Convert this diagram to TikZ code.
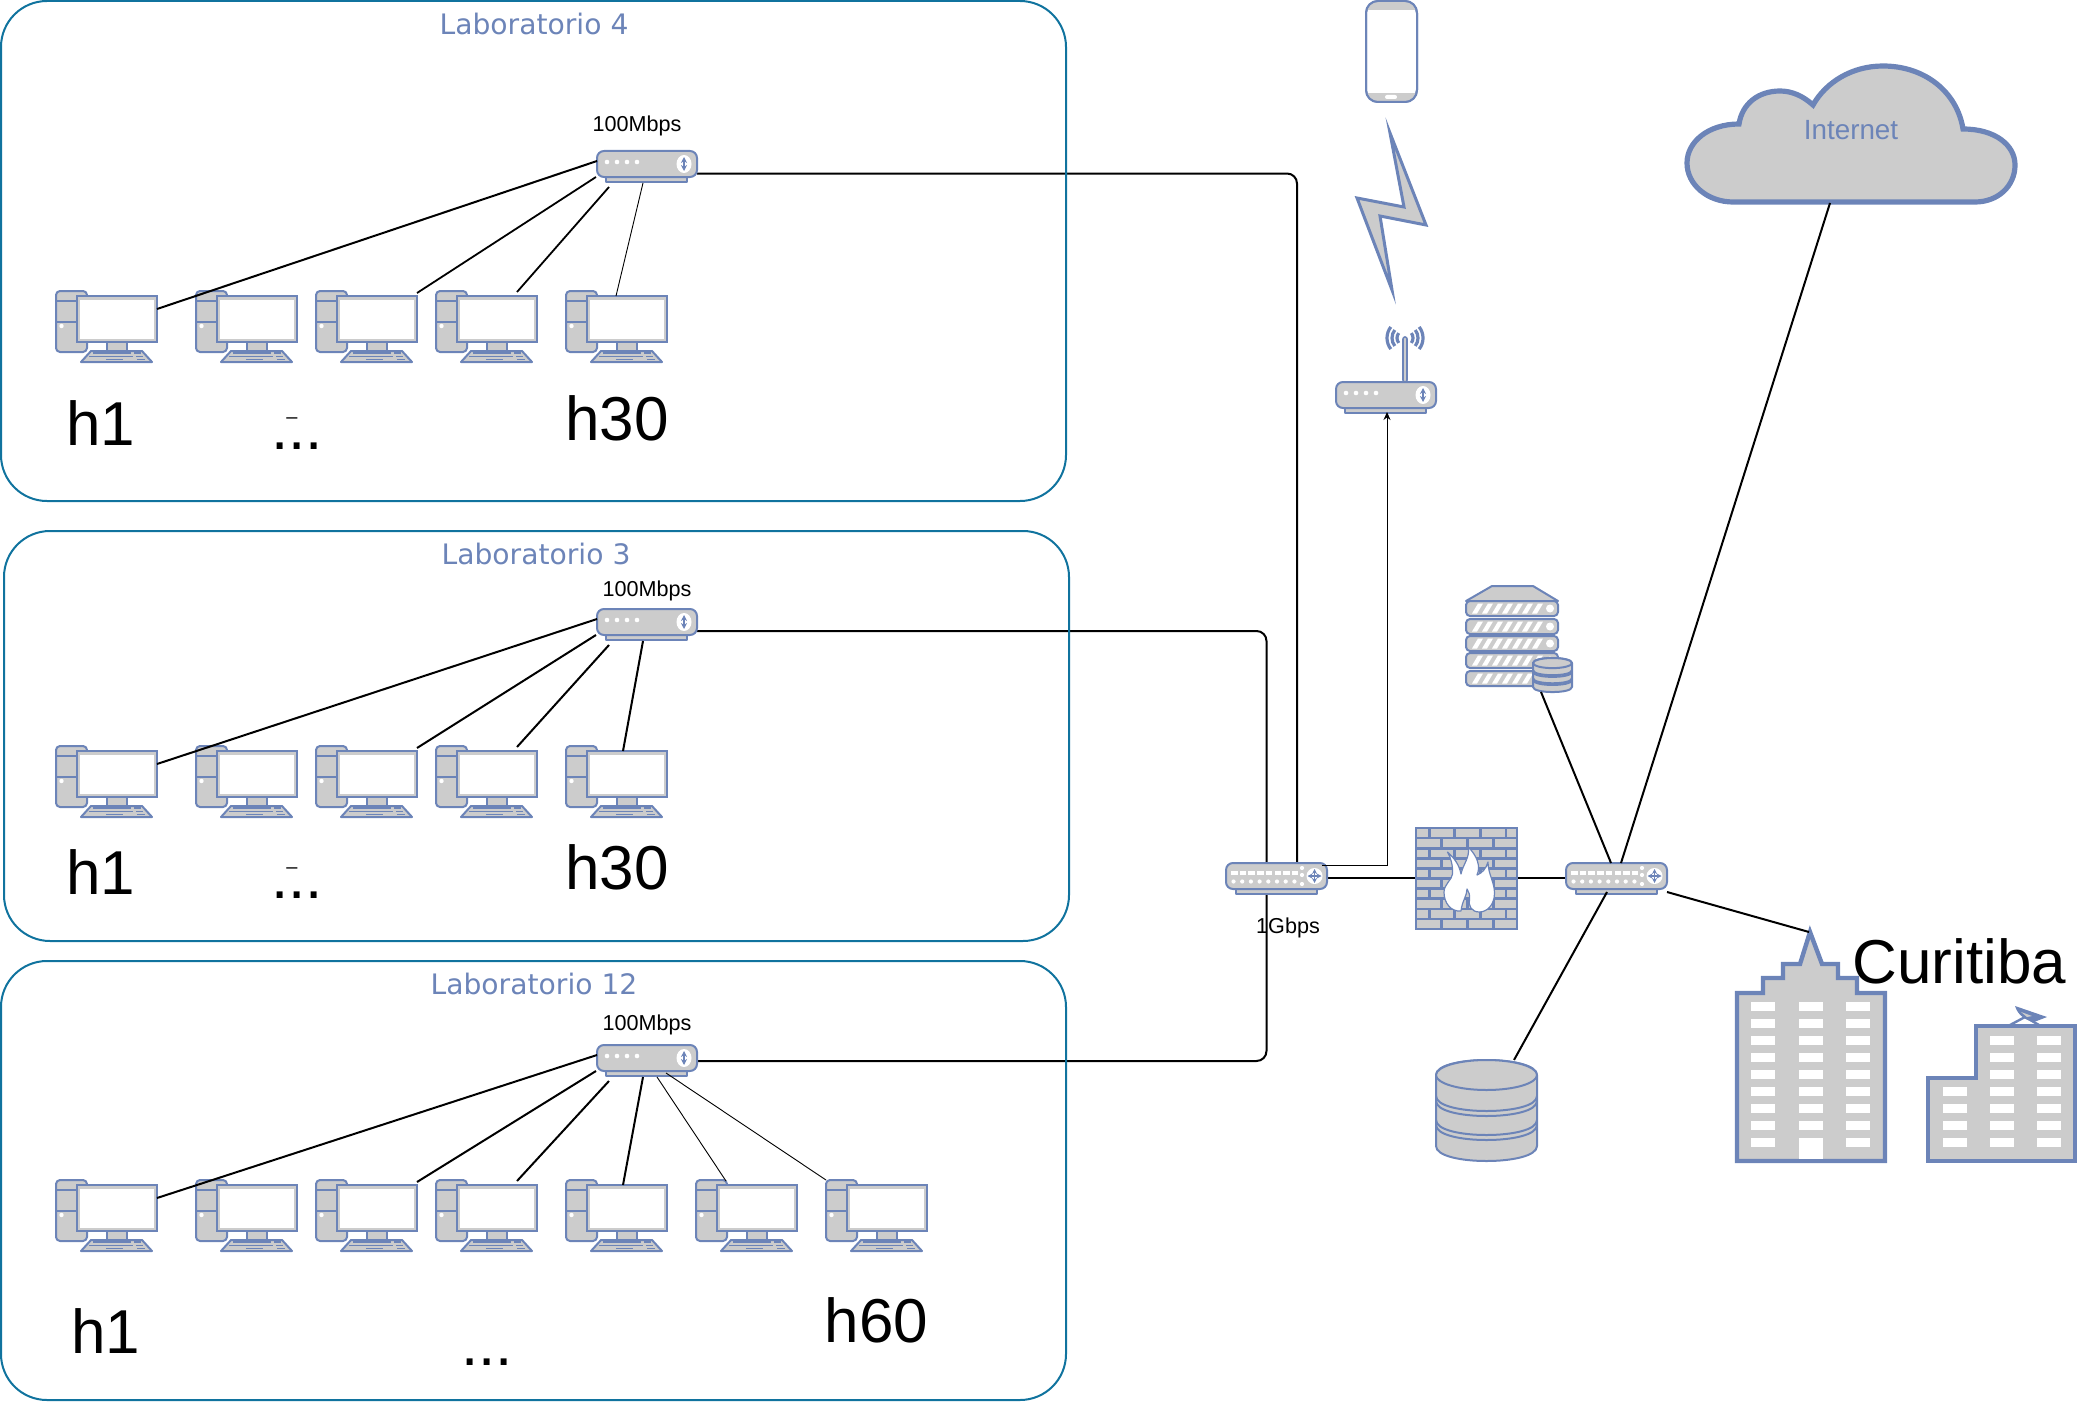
\documentclass[tikz,border=0pt]{standalone}
\usepackage{fontspec}
\setmainfont{Liberation Sans}
\newfontfamily\labfont{DejaVu Sans}
\usetikzlibrary{arrows.meta,backgrounds}
\definecolor{icon}{HTML}{6C84B8}
\definecolor{icongrey}{HTML}{CCCCCC}
\definecolor{boxline}{HTML}{10739E}
\tikzset{
  x=0.5pt,y=-0.5pt,
  labbox/.style={draw=boxline,line width=1pt,rounded corners=23pt},
  ico/.style={draw=icon,fill=icongrey,line width=1pt,line join=round},
  icoline/.style={draw=icon,line width=1pt},
  heavy/.style={draw=icon,fill=icongrey,line width=2.2pt,line join=miter},
  link/.style={draw=black,line width=1pt},
  thinlink/.style={draw=black,line width=0.45pt},
  labtitle/.style={text=icon,font=\labfont\fontsize{14.1}{16}\selectfont,inner sep=0pt},
  speed/.style={text=black,font=\fontsize{10.8}{13}\selectfont,inner sep=0pt},
  hostname/.style={text=black,font=\fontsize{31}{35}\selectfont,inner sep=0pt,anchor=base},
  tiny dash/.style={text=black,font=\fontsize{10}{12}\selectfont,inner sep=0pt},
  pics/computer/.style={code={
    \draw[ico,rounded corners=2pt] (0,0) rectangle (31,61);
    \draw[icoline] (0,10) -- (25,10) (0,31) -- (25,31);
    \fill[white] (5.5,35) circle[radius=2.2];
    \draw[ico] (51,50) rectangle (71,60);
    \draw[ico] (35,60) -- (86,60) -- (96,71) -- (25,71) -- cycle;
    \draw[icoline,line width=.9pt] (37,62) -- (75,62) (78,62) -- (85,62) (33,65.5) -- (77,65.5) (80,65.5) -- (87,65.5) (50,68.5) -- (67,68.5) (81,68.5) -- (89,68.5);
    \draw[draw=icon,fill=white,line width=1pt] (20.5,5) rectangle (101,51);
    \draw[draw=icongrey,line width=1.2pt] (22.8,7.3) rectangle (98.7,48.7);
    \coordinate (-east) at (101,18);
    \coordinate (-corner) at (101,2);
    \coordinate (-top) at (81,1);
    \coordinate (-mid) at (57,5);
    \coordinate (-midl) at (50,5);
    \coordinate (-tl) at (30,1);
    \coordinate (-nw) at (0,0);
  }},
  pics/smallswitch/.style={code={
    \draw[ico] (9,26) rectangle (90,31);
    \draw[ico,rounded corners=3.5pt] (0,0) rectangle (100,26);
    \foreach \dx in {10,20,30,40}{\fill[white] (\dx,11) circle[radius=2.3];}
    \fill[white] (87,13) ellipse[x radius=7.5,y radius=9];
    \draw[icon,line width=.8pt,{Stealth[length=3pt,width=3pt]}-{Stealth[length=3pt,width=3pt]}] (87,6) -- (87,20);
    \coordinate (-in) at (0,10);
    \coordinate (-sw) at (-1,26);
    \coordinate (-a) at (12,36);
    \coordinate (-b) at (43,32);
    \coordinate (-c) at (60,32);
    \coordinate (-d) at (69,28);
    \coordinate (-t) at (46,32);
  }},
  pics/bigswitch/.style={code={
    \draw[ico] (10,26) rectangle (91,31);
    \draw[ico,rounded corners=3.5pt] (0,0) rectangle (101,26);
    \foreach \dx in {5,13.7,22.4,31.1,39.8,48.5,57.2,65.9}{\fill[white] (\dx,8) rectangle ++(6.5,4);
       \fill[white] (\dx+2.5,18.5) circle[radius=2.1];}
    \foreach \dy in {5,12,21}{\fill[white] (76,\dy) circle[radius=2.1];}
    \fill[white] (88.5,13) circle[radius=8];
    \draw[icon,line width=.7pt,{Stealth[length=2.5pt,width=2.5pt]}-{Stealth[length=2.5pt,width=2.5pt]}] (81.5,13) -- (95.5,13);
    \draw[icon,line width=.7pt,{Stealth[length=2.5pt,width=2.5pt]}-{Stealth[length=2.5pt,width=2.5pt]}] (88.5,6) -- (88.5,20);
  }},
  pics/cylinder/.style={code={
    \draw[ico] (0,15) -- (0,86) .. controls (0,106) and (101,106) .. (101,86) -- (101,15) .. controls (101,-5) and (0,-5) .. (0,15) -- cycle;
    \draw[ico] (50.5,15) ellipse[x radius=50.5,y radius=15];
    \foreach \my in {51,56,75,80}{
      \draw[icoline] (0,\my-15) .. controls (0,\my+5) and (101,\my+5) .. (101,\my-15);}
  }},
}
\begin{document}
\begin{tikzpicture}
\useasboundingbox (0,0) rectangle (2077,1402);
% laboratory frames
\path[labbox] (1,1) rectangle (1066,501);
\path[labbox] (4,531) rectangle (1069,941);
\path[labbox] (1,961) rectangle (1066,1400);
\node[labtitle] (lab4) at (534,24) {Laboratorio 4};
\node[labtitle] (lab3) at (536,554) {Laboratorio 3};
\node[labtitle] (lab12) at (534,984) {Laboratorio 12};

% laboratory 4
\pic (swA) at (597,151) {smallswitch};
\foreach \n/\px in {1/56,2/196,3/316,4/436,5/566}{\pic (pcA\n) at (\px,291) {computer};}
\draw[link] (swA-in) -- (pcA1-east);
\draw[link,line width=.9pt] (swA-sw) -- (pcA3-corner);
\draw[link,line width=.9pt] (swA-a) -- (pcA4-top);
\draw[thinlink] (swA-t) -- (pcA5-midl);
\node[speed] (spA) at (637,126) {100Mbps};
\node[hostname] (hA1) at (100.5,445) {h1};
\node[hostname] (hAd) at (297,449) {...};
\node[tiny dash] (hAm) at (292,421) {–};
\node[hostname] (hA30) at (617,440) {h30};

% laboratory 3
\pic (swB) at (597,609) {smallswitch};
\foreach \n/\px in {1/56,2/196,3/316,4/436,5/566}{\pic (pcB\n) at (\px,746) {computer};}
\draw[link] (swB-in) -- (pcB1-east);
\draw[link] (swB-sw) -- (pcB3-corner);
\draw[link] (swB-a) -- (pcB4-top);
\draw[link] (swB-t) -- (pcB5-mid);
\node[speed] (spB) at (647,591) {100Mbps};
\node[hostname] (hB1) at (100.5,894) {h1};
\node[hostname] (hBd) at (297,898) {...};
\node[tiny dash] (hBm) at (292,871) {–};
\node[hostname] (hB30) at (617,889) {h30};

% laboratory 12
\pic (swC) at (597,1045) {smallswitch};
\foreach \n/\px in {1/56,2/196,3/316,4/436,5/566,6/696,7/826}{\pic (pcC\n) at (\px,1180) {computer};}
\draw[link] (swC-in) -- (pcC1-east);
\draw[link] (swC-sw) -- (pcC3-corner);
\draw[link] (swC-a) -- (pcC4-top);
\draw[link] (swC-t) -- (pcC5-mid);
\draw[thinlink] (swC-c) -- (pcC6-tl);
\draw[thinlink] (swC-d) -- (pcC7-nw);
\node[speed] (spC) at (647,1025) {100Mbps};
\node[hostname] (hC1) at (105.5,1353) {h1};
\node[hostname] (hCd) at (487,1365) {...};
\node[hostname] (hC60) at (876.5,1342) {h60};

% core switches
\pic (core) at (1226,863) {bigswitch};
\pic (edge) at (1566,863) {bigswitch};
\coordinate (coreUpA) at (1297,863);
\coordinate (coreUpB) at (1266.5,863);
\coordinate (coreDn) at (1266.5,889);
\coordinate (coreR) at (1322,865);
\coordinate (coreE) at (1327,878);
\coordinate (edgeW) at (1566,878);
\coordinate (edgeE) at (1667,892);
\coordinate (edgeN1) at (1611,863);
\coordinate (edgeN2) at (1621,863);
\coordinate (edgeS) at (1607,892);
\coordinate (swAout) at (697,173.5);
\coordinate (swBout) at (697,631);
\coordinate (swCout) at (697,1061);
\node[speed] (spCore) at (1288,928) {1Gbps};

% phone
\draw[draw=icon,fill=white,line width=1pt,rounded corners=6pt] (1366,1) rectangle (1417,102);
\begin{scope}
\clip[rounded corners=6pt] (1366,1) rectangle (1417,102);
\fill[icongrey] (1367,2) rectangle (1416,10);
\fill[icongrey] (1367,93) rectangle (1416,101);
\end{scope}
\draw[draw=icon,line width=1pt,rounded corners=6pt] (1366,1) rectangle (1417,102);
\fill[white,rounded corners=1pt] (1385,95) rectangle (1397,99);

% lightning
\draw[draw=icon,fill=icongrey,line width=1.5pt,line join=miter,miter limit=30] (1390,133) -- (1426,225) -- (1380,216) -- (1392,290) -- (1357,198) -- (1404,207) -- cycle;

% wireless router
\draw[draw=icon,fill=icongrey,line width=.8pt,rounded corners=1pt] (1403,337) rectangle (1407,382);
\foreach \r in {8,13,18}{
  \draw[draw=icon,line width=1.6pt] (1405,338) ++(38:\r) arc[start angle=38,end angle=-38,radius=\r];
  \draw[draw=icon,line width=1.6pt] (1405,338) ++(142:\r) arc[start angle=142,end angle=218,radius=\r];
}
\pic (wifi) at (1336,382) {smallswitch};
\coordinate (wifiIn) at (1387,412);

% firewall
\begin{scope}[shift={(1416,828)}]
\foreach \row in {0,2,4,6,8}{
  \foreach \xa/\xb in {0/13.3,13.3/38.3,38.3/64.3,64.3/90,90/101}{
    \draw[draw=icon,fill=icongrey,line width=1.3pt] (\xa,\row*10.1) rectangle (\xb,\row*10.1+10.1);}
}
\foreach \row in {1,3,5,7,9}{
  \foreach \xa/\xb in {0/25.7,25.7/51.7,51.7/77.3,77.3/101}{
    \draw[draw=icon,fill=icongrey,line width=1.3pt] (\xa,\row*10.1) rectangle (\xb,\row*10.1+10.1);}
}
\draw[draw=icon,fill=white,line width=.6pt,line join=round]
  (45,83) .. controls (35,84) and (28,75) .. (28,64.3)
  .. controls (28,56) and (36,52) .. (36.5,46)
  .. controls (37,38) and (35,30) .. (31.5,24)
  .. controls (38,30) and (43,36) .. (45,46)
  .. controls (47,36) and (54,30) .. (52.3,19)
  .. controls (61,28) and (65,38) .. (61,47)
  .. controls (66,45) and (70,41) .. (72,34)
  .. controls (72,46) and (78.5,54) .. (78.5,65)
  .. controls (78.5,77) and (71,84) .. (63.3,84)
  .. controls (55,84) and (52,77) .. (53.5,71)
  .. controls (54,67) and (53,64) .. (51,61)
  .. controls (51,68) and (46,73) .. (45,83) -- cycle;
\end{scope}

% server
\begin{scope}[shift={(1466,586)}]
\draw[ico] (0,15) -- (26,0) -- (67,0) -- (92,15) -- cycle;
\foreach \uy in {15,33,50,67,85}{
  \draw[ico,rounded corners=2pt] (0,\uy) rectangle (92,\uy+15);
  \foreach \sx in {6,16,26,36,46,56,66}{
    \fill[white] (\sx,\uy+12.5) -- (\sx+5,\uy+12.5) -- (\sx+11,\uy+2.5) -- (\sx+6,\uy+2.5) -- cycle;}
  \fill[white] (84,\uy+7.5) circle[radius=4];
}
\end{scope}
\pic[xscale=.386,yscale=.337] (minidb) at (1533,658) {cylinder};
\coordinate (minidbS) at (1541,692);

% storage
\pic (db) at (1436,1060) {cylinder};
\coordinate (dbN) at (1514,1060);

% Curitiba buildings
\draw[heavy] (1737,993) -- (1763,993) -- (1763,978) -- (1783,978) -- (1783,964) -- (1800,964) -- (1810,932) -- (1822,964) -- (1838,964) -- (1838,978) -- (1857,978) -- (1857,993) -- (1885,993) -- (1885,1161) -- (1737,1161) -- cycle;
\foreach \wy in {1002,1019,1036,1053,1070,1087,1104,1121,1138}{
  \foreach \wx in {1751,1799,1846}{\fill[white] (\wx,\wy) rectangle ++(24,9);}
}
\fill[white] (1799,1138) rectangle (1823,1159);
\draw[heavy] (1928,1078) -- (1976,1078) -- (1976,1026) -- (2075,1026) -- (2075,1161) -- (1928,1161) -- cycle;
\foreach \wy in {1036,1053,1070,1087,1104,1121,1138}{
  \foreach \wx in {1990,2037}{\fill[white] (\wx,\wy) rectangle ++(24,9);}
}
\foreach \wy in {1087,1104,1121,1138}{\fill[white] (1943,\wy) rectangle ++(24,9);}
\draw[draw=icon,line width=1.2pt] (2010,1025) -- (2025,1017) -- (2039,1025);
\fill[icon] (2015,1006) -- (2047,1017) -- (2034,1022) .. controls (2026,1020) and (2018,1016) .. (2015,1006) -- cycle;
\fill[icongrey] (2021,1012) -- (2032,1016) -- (2027,1017) -- cycle;
\node[hostname] (curitiba) at (1959.5,983) {Curitiba};
\coordinate (towerTop) at (1809,932);

% cloud
\draw[draw=icon,fill=icongrey,line width=2.6pt,line join=miter]
  (1739,124) .. controls (1708,124) and (1687,142) .. (1687,163)
  .. controls (1687,185) and (1708,202) .. (1733,202)
  -- (1975,202)
  .. controls (1998,202) and (2015,186) .. (2015,165)
  .. controls (2015,145) and (1995,129) .. (1963,129)
  .. controls (1957,92) and (1925,66) .. (1883,66)
  .. controls (1852,66) and (1826,82) .. (1813,105)
  .. controls (1803,96) and (1792,91) .. (1780,91)
  .. controls (1758,91) and (1742,104) .. (1739,124) -- cycle;
\node[text=icon,font=\fontsize{13.9}{16}\selectfont,inner sep=0pt] (internet) at (1851,130) {Internet};
\coordinate (cloudS) at (1830,203);

% connectors behind the icons
\begin{scope}[on background layer]
\draw[link,rounded corners=5pt] (swAout) -| (coreUpA);
\draw[link,rounded corners=5pt] (swBout) -| (coreUpB);
\draw[link,rounded corners=5pt] (swCout) -| (coreDn);
\draw[link] (coreE) -- (edgeW);
\end{scope}
\draw[thinlink,-{Stealth[length=4pt,width=3.5pt]}] (coreR) -| (wifiIn);
\draw[link] (minidbS) -- (edgeN1);
\draw[link] (cloudS) -- (edgeN2);
\draw[link] (edgeE) -- (towerTop);
\draw[link] (dbN) -- (edgeS);
\end{tikzpicture}
\end{document}
